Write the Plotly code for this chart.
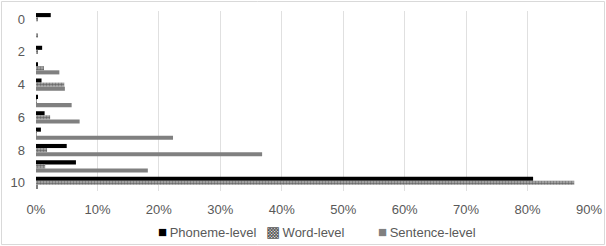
import plotly.graph_objects as go

categories = ["0", "1", "2", "3", "4", "5", "6", "7", "8", "9", "10"]
phoneme = [0.024, 0.0, 0.010, 0.003, 0.009, 0.003, 0.014, 0.008, 0.050, 0.065, 0.809]
word = [0.002, 0.002, 0.002, 0.013, 0.046, 0.001, 0.023, 0.001, 0.018, 0.015, 0.876]
sentence = [0.0, 0.0, 0.0, 0.038, 0.047, 0.058, 0.071, 0.223, 0.368, 0.182, 0.002]
series_names = ["Phoneme-level", "Word-level", "Sentence-level"]
tick_cats = ["0", "2", "4", "6", "8", "10"]
x_ticks = [0, 0.1, 0.2, 0.3, 0.4, 0.5, 0.6, 0.7, 0.8, 0.9]

W, H = 606, 246
L, R, T, B = 36, 17, 11, 55
pw = W - L - R
ph = H - T - B


def px(X):
    return (X - L) / pw


def py(Y):
    return (H - B - Y) / ph


fig = go.Figure()
fig.add_trace(go.Bar(y=categories, x=phoneme, orientation="h", name=series_names[0],
                     marker=dict(color="#000000", line=dict(width=0))))
fig.add_trace(go.Bar(y=categories, x=word, orientation="h", name=series_names[1],
                     marker=dict(color="#777777", line=dict(width=0),
                                 pattern=dict(shape=".", fgcolor="#222222", bgcolor="#b5b5b5",
                                              size=3, solidity=0.6))))
fig.add_trace(go.Bar(y=categories, x=sentence, orientation="h", name=series_names[2],
                     marker=dict(color="#808080", line=dict(width=0))))

fig.add_shape(type="rect", xref="paper", yref="paper",
              x0=px(1.5), x1=px(W - 1.5), y0=py(H - 1.5), y1=py(1.5),
              line=dict(color="#d9d9d9", width=1), fillcolor="rgba(0,0,0,0)", layer="below")

leg_font = dict(family="Liberation Sans, Arial, sans-serif", size=13, color="#595959")
leg_items = [("■", "#000000", 156, series_names[0]),
             ("▩", "#555555", 264, series_names[1]),
             ("■", "#808080", 376, series_names[2])]
for sym, col, X, name in leg_items:
    fig.add_annotation(xref="paper", yref="paper", x=px(X), y=py(231),
                       xanchor="left", yanchor="middle", showarrow=False,
                       text=f"<span style='color:{col};font-size:15px'>{sym}</span>&#8201;{name}",
                       font=leg_font)

fig.update_layout(
    width=W, height=H,
    margin=dict(l=L, r=R, t=T, b=B, autoexpand=False),
    paper_bgcolor="white", plot_bgcolor="white",
    barmode="group", bargap=0.25, bargroupgap=0,
    font=dict(family="Liberation Sans, Arial, sans-serif", size=12, color="#595959"),
    showlegend=False,
    xaxis=dict(range=[0, 0.9], tickvals=x_ticks, tickformat=".0%", showgrid=True,
               gridcolor="#e0e0e0", gridwidth=1, zeroline=False, showline=False,
               tickfont=dict(size=13, color="#595959"), ticks="", ticklabelstandoff=9,
               automargin=False),
    yaxis=dict(type="category", categoryorder="array", categoryarray=categories,
               autorange="reversed", tickmode="array", tickvals=tick_cats, ticktext=tick_cats,
               showgrid=False, showline=False, zeroline=False, ticks="",
               tickfont=dict(size=13, color="#595959"), ticklabelstandoff=10,
               automargin=False),
)

fig.write_html("out.html", config={"displayModeBar": False},
               post_script="document.body.style.margin='0';document.body.style.overflow='hidden';")
